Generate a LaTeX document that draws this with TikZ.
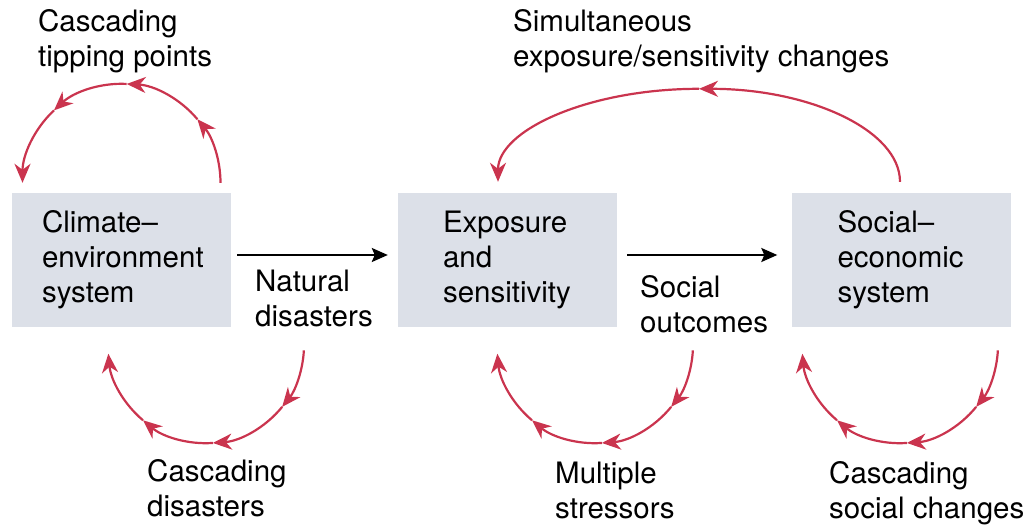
\documentclass[tikz,border=0pt]{standalone}
\usepackage{fontspec}
\setmainfont{TeX Gyre Heros}
\usetikzlibrary{arrows.meta,calc}
\definecolor{boxfill}{RGB}{220,224,232}
\definecolor{loopred}{RGB}{202,52,78}
\begin{document}
\begin{tikzpicture}[x=1pt,y=1pt,
  every node/.style={font=\fontsize{29.5}{35}\selectfont},
  sysbox/.style={fill=boxfill, minimum width=219pt, minimum height=134pt, inner sep=0pt},
  boxtext/.style={anchor=west, inner sep=0pt, align=left},
  lbl/.style={anchor=north west, inner sep=0pt, align=left},
  flow/.style={line width=2pt, -{Stealth[length=16pt,width=14pt,inset=3pt]}},
  redloop/.style={line width=2.2pt, draw=loopred, -{Stealth[length=19pt,width=16pt,inset=6pt]}}
]
\useasboundingbox (0,0) rectangle (1023,525);

% system boxes
\node[sysbox] (b1) at (121.5,265) {};
\node[sysbox] (b2) at (507.5,265) {};
\node[sysbox] (b3) at (901,265) {};
\node[boxtext] (t1) at ([xshift=30]b1.west) {Climate–\\environment\\system};
\node[boxtext] (t2) at ([xshift=45]b2.west) {Exposure\\and\\sensitivity};
\node[boxtext] (t3) at ([xshift=46]b3.west) {Social–\\economic\\system};

% flow arrows
\draw[flow] ([shift={(6,5)}]b1.east) -- ([shift={(-10,5)}]b2.west);
\draw[flow] ([shift={(10,5)}]b2.east) -- ([shift={(-14,5)}]b3.west);

% labels
\node[lbl] (l1) at (38,516) {Cascading\\tipping points};
\node[lbl] (l2) at (513,516) {Simultaneous\\exposure/sensitivity changes};
\node[lbl] (l3) at (255,255) {Natural\\disasters};
\node[lbl] (l4) at (640,250) {Social\\outcomes};
\node[lbl] (l5) at (147,66) {Cascading\\disasters};
\node[lbl] (l6) at (555,63) {Multiple\\stressors};
\node[lbl] (l7) at (829,64) {Cascading\\social changes};

% loop centres
\coordinate (c1) at ([yshift=10]b1.north);
\coordinate (c2) at ([shift={(84.5,-18)}]b1.south);
\coordinate (c3) at ([shift={(87.5,-18)}]b2.south);
\coordinate (c4) at ([shift={(-1,-18)}]b3.south);
\coordinate (c5) at ([shift={(-202,11)}]b3.north);

% cascading tipping points loop
\foreach \a/\b in {0/40,40/87,87/133,133/180}
  \draw[redloop] ($(c1)+(\a:99)$) arc[start angle=\a, end angle=\b, radius=99];
% bottom loops
\foreach \c in {c2,c3,c4}
  \foreach \a/\b in {-3/-39,-39/-86,-86/-130,-130/-175}
    \draw[redloop] ($(\c)+(\a:98)$) arc[start angle=\a, end angle=\b, radius=98];
% simultaneous changes arc
\draw[redloop] ($(c5)+(201,0)$) arc[start angle=0, end angle=90, x radius=201, y radius=93];
\draw[redloop] ($(c5)+(0,93)$) arc[start angle=90, end angle=180, x radius=201, y radius=93];
\end{tikzpicture}
\end{document}
